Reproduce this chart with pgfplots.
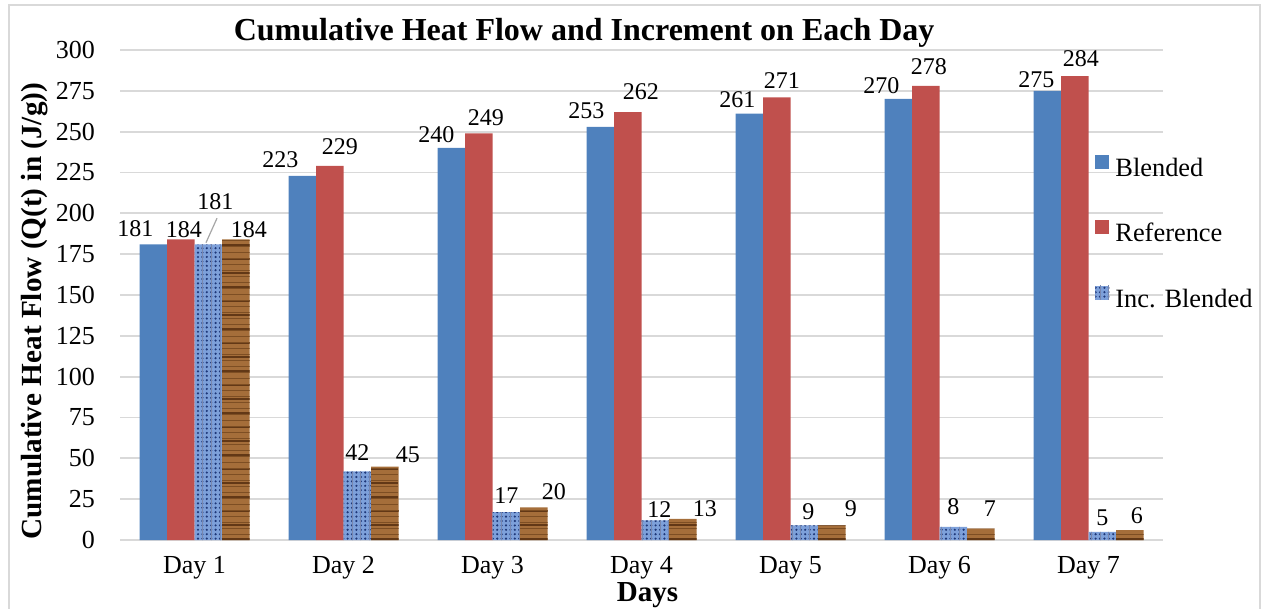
\documentclass[border=0pt]{standalone}
\usepackage{pgfplots}
\pgfplotsset{compat=1.18}
\usepackage{pgfplotstable}
\usetikzlibrary{patterns,patterns.meta}
\usepackage{fontspec}
\setmainfont{Liberation Serif}

\definecolor{blended}{RGB}{79,129,189}
\definecolor{reference}{RGB}{192,80,77}
\definecolor{weavebase}{RGB}{125,160,218}
\definecolor{weavedark}{RGB}{30,55,120}
\definecolor{woodbase}{RGB}{165,110,58}
\definecolor{wooddark}{RGB}{98,56,22}
\definecolor{woodmid}{RGB}{125,78,35}
\definecolor{gridgray}{RGB}{217,217,217}

% x = day index, y = value, dx/dy = label offsets (pt)
\pgfplotstableread{
x y dx dy
0 181 -9 3.5
1 223 -11 4
2 240 -7.5 2.5
3 253 -7 4
4 261 -6 3
5 270 -8.5 2.5
6 275 -5.5 1.5
}\blendedtab

\pgfplotstableread{
x y dx dy
0 184 1.5 0.5
1 229 5 5.5
2 249 3.5 3.5
3 262 6.5 6
4 271 2.5 4
5 278 1.5 5.5
6 284 3 4.5
}\referencetab

\pgfplotstableread{
x y dx dy
0 181 3.5 17
1 42 0 5.5
2 17 0 4
3 12 2 1.5
4 9 2 2.5
5 8 0 6
6 5 0 3
}\incblendedtab

\pgfplotstableread{
x y dx dy
0 184 6.5 0.5
1 45 11.5 1.5
2 20 10 3.5
3 13 11 1
4 9 9.5 4
5 7 4.5 6
6 6 3.5 3
}\increferencetab

\begin{document}
\begin{tikzpicture}
\useasboundingbox (0pt,0pt) rectangle (633.5pt,-304.5pt);
\begin{axis}[
  at={(60pt,-270pt)}, anchor=south west,
  scale only axis, width=521.5pt, height=245pt,
  ybar=0pt, bar width=13.75pt,
  xmin=-0.5, xmax=6.5, ymin=0, ymax=300,
  enlargelimits=false,
  xtick={0,1,2,3,4,5,6},
  xticklabels={Day 1,Day 2,Day 3,Day 4,Day 5,Day 6,Day 7},
  ytick={0,25,...,300},
  ymajorgrids,
  grid style={gridgray, line width=0.9pt},
  axis line style={draw=none},
  major tick length=0pt,
  tick style={draw=none},
  /pgf/number format/assume math mode=true,
  yticklabel style={font=\fontsize{13}{15}\selectfont, xshift=-9pt},
  xticklabel style={font=\fontsize{13}{15}\selectfont, yshift=-4.5pt},
  title={\fontsize{16}{18}\selectfont\bfseries Cumulative Heat Flow and Increment on Each Day},
  every axis title shift=0pt,
  title style={at={(axis description cs:0.445,1.0204)}, anchor=base, inner sep=0pt},
  ylabel={\fontsize{14.6}{17}\selectfont\bfseries Cumulative Heat Flow (Q(t) in (J/g))},
  ylabel style={at={(axis description cs:-0.0822,0.467)}, anchor=center},
  xlabel={\fontsize{14.5}{17}\selectfont\bfseries Days},
  xlabel style={at={(axis description cs:0.5057,-0.113)}, anchor=center},
  nodes near coords,
  visualization depends on={\thisrow{dx}\as\labdx},
  visualization depends on={\thisrow{dy}\as\labdy},
  nodes near coords style={font=\fontsize{12}{14}\selectfont, anchor=south,
    inner sep=0pt, xshift=\labdx pt, yshift=\labdy pt, text=black},
  legend style={at={(0.9348,0.626)}, anchor=west, draw=none, fill=none,
    inner sep=0pt, row sep=19.5pt, font=\fontsize{13.2}{15}\selectfont,
    nodes={inner sep=0pt, text height=9pt, text depth=2.5pt},
    /tikz/every odd column/.append style={column sep=3pt}},
  legend cell align=left,
  legend image code/.code={\path[#1] (0pt,0.5pt) rectangle (7pt,7.5pt);},
]
\addplot[fill=blended, draw=none] table[x=x, y=y] {\blendedtab};
\addplot[fill=reference, draw=none] table[x=x, y=y] {\referencetab};
\addplot[fill=weavebase, draw=none,
  postaction={pattern={Dots[distance=2.2pt, radius=0.6pt]}, pattern color=weavedark},
  postaction={pattern={Lines[angle=90, distance=4.4pt, line width=0.5pt]}, pattern color=weavedark!60}]
  table[x=x, y=y] {\incblendedtab};
\addplot[fill=woodbase, draw=none,
  postaction={pattern={Lines[angle=0, distance=7pt, line width=1.4pt]}, pattern color=wooddark},
  postaction={pattern={Lines[angle=0, distance=3pt, line width=0.5pt, yshift=1pt]}, pattern color=woodmid}]
  table[x=x, y=y] {\increferencetab};
\legend{Blended, Reference, Inc. Blended}
% leader line from the Day 1 increment bar to its raised label
\draw[gray!70, line width=0.6pt] (axis cs:0.077,182) -- (axis cs:0.151,197);
\end{axis}
\draw[gridgray, line width=1pt] (4.5pt,-2.5pt) rectangle (630pt,-320pt);
\end{tikzpicture}
\end{document}
